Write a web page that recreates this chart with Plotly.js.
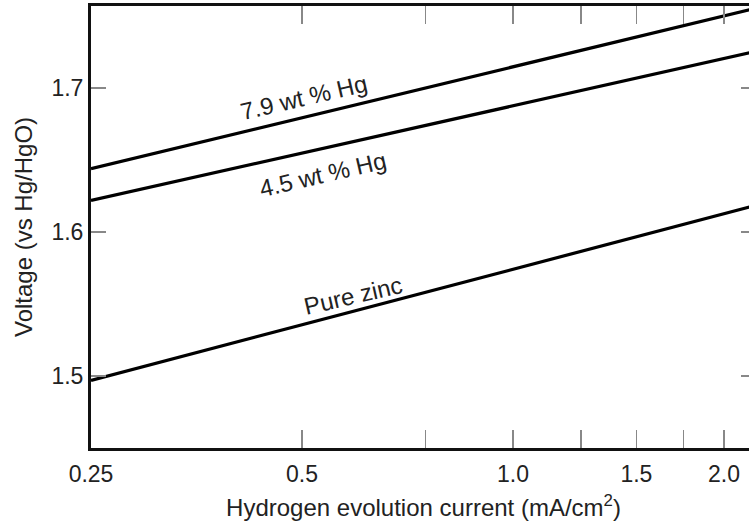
<!DOCTYPE html>
<html>
<head>
<meta charset="utf-8">
<script src="https://cdn.plot.ly/plotly-3.0.1.min.js"></script>
<style>
html, body { margin: 0; padding: 0; overflow: hidden; background: #fff; width: 749px; height: 525px; }
#chart { width: 756px; height: 525px; }
</style>
</head>
<body>
<div id="chart"></div>
<script>
// Hydrogen evolution current (mA/cm^2), endpoints of each straight line
const currentX = [0.25, 2.2];
const hg79 = [1.644, 1.755];
const hg45 = [1.622, 1.725];
const pureZinc = [1.497, 1.618];

const seriesNames = ["7.9 wt % Hg", "4.5 wt % Hg", "Pure zinc"];
const seriesValues = [hg79, hg45, pureZinc];

const xMajorTicks = [0.25, 0.5, 1.0, 1.5, 2.0];
const xMajorLabels = ["0.25", "0.5", "1.0", "1.5", "2.0"];
const xMinorTicks = [0.75, 1.25, 1.75];
const yTicks = [1.5, 1.6, 1.7];
const yLabels = ["1.5", "1.6", "1.7"];

const FONT = "Liberation Sans, Arial, Helvetica, sans-serif";
const TICK_FS = 23;
const FS = 24;
const TXT = "#222";

const traces = seriesValues.map((v, i) => ({
  x: currentX, y: v, name: seriesNames[i], mode: "lines", type: "scatter",
  line: { color: "#000", width: 3.2 }, hoverinfo: "skip", showlegend: false
}));

// right-side inside ticks
traces.push({ x: [0.25], y: [1.5], yaxis: "y2", xaxis: "x", mode: "markers", marker: { opacity: 0 }, showlegend: false, hoverinfo: "skip" });

const layout = {
  width: 756, height: 525,
  margin: { l: 91, r: 0, t: 6, b: 77 },
  paper_bgcolor: "#fff", plot_bgcolor: "#fff",
  font: { family: FONT, size: FS, color: TXT },
  showlegend: false,
  xaxis: {
    type: "log",
    range: [Math.log10(0.25), Math.log10(2.222)],
    tickmode: "array", tickvals: xMajorTicks, ticktext: xMajorLabels,
    ticks: "inside", ticklen: 18, tickwidth: 1.5, tickcolor: "#888",
    ticklabelstandoff: 3,
    minor: { tickmode: "array", tickvals: xMinorTicks, ticks: "inside", ticklen: 10, tickwidth: 1.5, tickcolor: "#888" },
    showline: true, linecolor: "#111", linewidth: 3, mirror: "allticks",
    showgrid: false, zeroline: false,
    tickfont: { family: FONT, size: TICK_FS, color: TXT },
    title: { text: "Hydrogen evolution current (mA/cm<sup>2</sup>)", font: { family: FONT, size: FS, color: TXT }, standoff: 14 }
  },
  yaxis: {
    range: [1.45, 1.757],
    tickmode: "array", tickvals: yTicks, ticktext: yLabels,
    ticks: "inside", ticklen: 15, tickwidth: 1.5, tickcolor: "#888",
    showline: true, linecolor: "#111", linewidth: 3, mirror: false,
    showgrid: false, zeroline: false,
    tickfont: { family: FONT, size: TICK_FS, color: TXT },
    title: { text: "Voltage (vs Hg/HgO)", font: { family: FONT, size: FS, color: TXT }, standoff: 13 }
  },
  yaxis2: {
    overlaying: "y", side: "right", range: [1.45, 1.757],
    tickmode: "array", tickvals: yTicks, showticklabels: false,
    ticks: "inside", ticklen: 15, tickwidth: 1.5, tickcolor: "#888",
    showline: false, showgrid: false, zeroline: false
  },
  annotations: [
    { x: Math.log10(0.502), y: 1.6937, text: "7.9 wt % Hg", textangle: -13, showarrow: false, font: { family: FONT, size: FS, color: TXT } },
    { x: Math.log10(0.534), y: 1.6403, text: "4.5 wt % Hg", textangle: -13, showarrow: false, font: { family: FONT, size: FS, color: TXT } },
    { x: Math.log10(0.591), y: 1.5562, text: "Pure zinc", textangle: -13, showarrow: false, font: { family: FONT, size: FS, color: TXT } }
  ]
};

Plotly.newPlot("chart", traces, layout, { staticPlot: true, displayModeBar: false });
</script>
</body>
</html>
